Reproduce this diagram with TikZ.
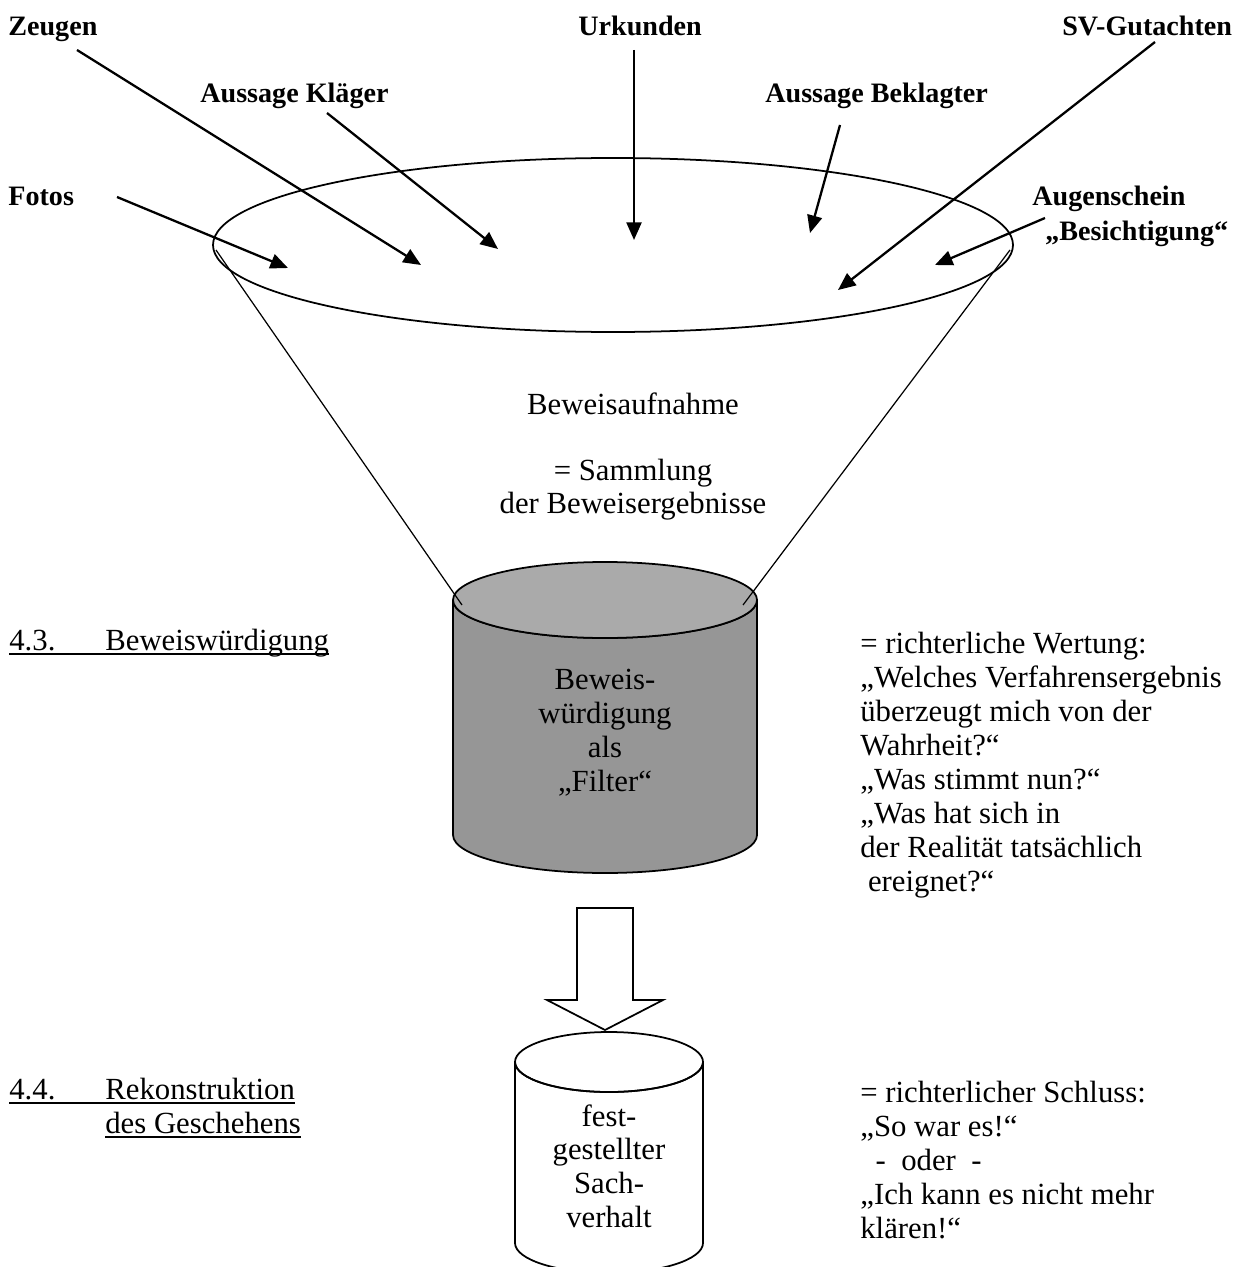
\documentclass[tikz,border=0pt]{standalone}
\usepackage{fontspec}
\setmainfont{Liberation Serif}
\usetikzlibrary{arrows.meta}
\definecolor{toplight}{RGB}{170,170,170}
\definecolor{bodygray}{RGB}{150,150,150}
\begin{document}
\begin{tikzpicture}[x=0.02cm,y=-0.02cm,
  lbl/.style={font=\bfseries\fontsize{16}{19}\selectfont, inner sep=0, anchor=base west},
  txt/.style={font=\fontsize{17.5}{19.3}\selectfont, inner sep=0, align=left, anchor=base west},
  ctxt/.style={font=\fontsize{17.5}{19.3}\selectfont, inner sep=0, align=center},
  ptr/.style={line width=1.3pt, -{Triangle[length=10pt,width=8.5pt]}},
  rim/.style={line width=1pt},
  thin/.style={line width=0.7pt},
  uline/.style={line width=1.1pt},
]
\useasboundingbox (0,0) rectangle (1241,1267);

% ---- funnel rim
\draw[rim] (613,245) ellipse [x radius=400, y radius=87];

% ---- grey cylinder
\filldraw[rim, fill=bodygray] (453,600) -- (453,835)
   arc[start angle=180, end angle=0, x radius=152, y radius=38] -- (757,600)
   arc[start angle=0, end angle=180, x radius=152, y radius=38] -- cycle;
\filldraw[rim, fill=toplight] (605,600) ellipse [x radius=152, y radius=38];

% ---- funnel sides
\coordinate (fl1) at (216,250);
\coordinate (fl2) at (462,605);
\coordinate (fr1) at (1010,250);
\coordinate (fr2) at (743,605);
\draw[thin] (fl1) -- (fl2);
\draw[thin] (fr1) -- (fr2);

% ---- block arrow
\draw[rim, fill=white] (577,908) -- (633,908) -- (633,1000) -- (663,1000)
   -- (605,1030) -- (547,1000) -- (577,1000) -- cycle;

% ---- white cylinder
\filldraw[rim, fill=white] (515,1062) -- (515,1243)
   arc[start angle=180, end angle=0, x radius=94, y radius=30] -- (703,1062)
   arc[start angle=0, end angle=180, x radius=94, y radius=30] -- cycle;
\draw[rim] (609,1062) ellipse [x radius=94, y radius=30];

% ---- top labels
\node[lbl] (zeugen) at (8,36) {Zeugen};
\node[lbl] (urk) at (578,36) {Urkunden};
\node[lbl] (sv) at (1062,36) {SV-Gutachten};
\node[lbl] (klaeger) at (200,103) {Aussage Kläger};
\node[lbl] (beklagter) at (765,103) {Aussage Beklagter};
\node[lbl] (fotos) at (8,206) {Fotos};
\node[lbl] (augen) at (1032,206) {Augenschein};
\node[lbl] (besicht) at (1045,240) {„Besichtigung“};

% ---- arrows
\coordinate (zs) at (77,50);   \coordinate (zt) at (421,265);
\coordinate (ks) at (327,113); \coordinate (kt) at (498,249);
\coordinate (us) at (634,50);  \coordinate (ut) at (634,240);
\coordinate (bs) at (840,125); \coordinate (bt) at (810,233);
\coordinate (ss) at (1155,42); \coordinate (st) at (838,290);
\coordinate (fs) at (117,197); \coordinate (ft) at (288,268);
\coordinate (as) at (1045,218);\coordinate (at) at (935,265);
\draw[ptr] (zs) -- (zt);
\draw[ptr] (ks) -- (kt);
\draw[ptr] (us) -- (ut);
\draw[ptr] (bs) -- (bt);
\draw[ptr] (ss) -- (st);
\draw[ptr] (fs) -- (ft);
\draw[ptr] (as) -- (at);

% ---- centre text
\node[ctxt, anchor=base] (aufn) at (633,414) {Beweisaufnahme};
\node[ctxt, anchor=base] (samml) at (633,480) {= Sammlung};
\node[ctxt, anchor=base] (ergeb) at (633,513) {der Beweisergebnisse};

% ---- cylinder texts
\node[ctxt, anchor=north] (filter) at (605,669) {Beweis-\\würdigung\\als\\„Filter“};
\node[ctxt, anchor=north] (sach) at (609,1104) {fest-\\gestellter\\Sach-\\verhalt};

% ---- left headings
\node[txt] (n43) at (9,650) {4.3.};
\node[txt] (h43) at (105,650) {Beweiswürdigung};
\draw[uline] ([yshift=-2.5pt]n43.base west) -- ([yshift=-2.5pt]h43.base east);
\node[txt] (n44) at (9,1099) {4.4.};
\node[txt] (h44) at (105,1099) {Rekonstruktion};
\node[txt] (h44b) at (105,1133) {des Geschehens};
\draw[uline] ([yshift=-2.5pt]n44.base west) -- ([yshift=-2.5pt]h44.base east);
\draw[uline] ([yshift=-2.5pt]h44b.base west) -- ([yshift=-2.5pt]h44b.base east);

% ---- right explanations
\node[txt, anchor=north west] (wert) at (860,632) {= richterliche Wertung:\\
„Welches Verfahrensergebnis\\
überzeugt mich von der\\
Wahrheit?“\\
„Was stimmt nun?“\\
„Was hat sich in\\
der Realität tatsächlich\\
\ ereignet?“};
\node[txt, anchor=north west] (schluss) at (860,1081) {= richterlicher Schluss:\\
„So war es!“\\
\ \ - \ oder \ -\\
„Ich kann es nicht mehr\\
klären!“};
\end{tikzpicture}
\end{document}
